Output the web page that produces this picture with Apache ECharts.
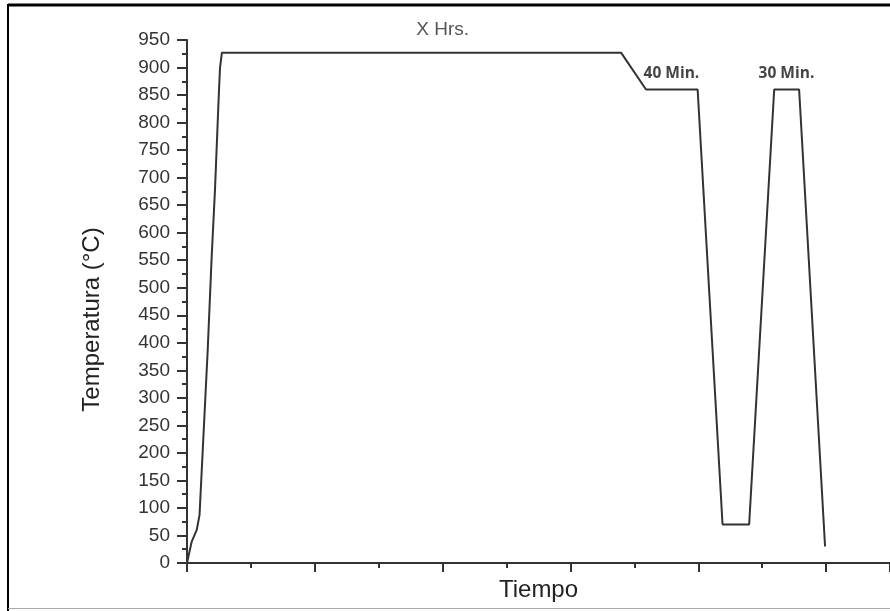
<!DOCTYPE html>
<html>
<head>
<meta charset="utf-8">
<script src="https://cdn.jsdelivr.net/npm/echarts@6/dist/echarts.min.js"></script>
<style>
  html, body { margin: 0; padding: 0; background: #fff; }
  #chart { width: 890px; height: 611px; }
</style>
</head>
<body>
<div id="chart"></div>
<script>
// Heat-treatment cycle: time (arbitrary units) vs temperature (°C)
var tiempo = [0, 0.037, 0.076, 0.098, 0.127, 0.162, 0.193, 0.219, 0.245, 0.258, 0.273,
              2.0, 3.396, 3.591, 3.79, 3.995, 4.19, 4.398, 4.594, 4.69, 4.789, 4.992];
var temperatura = [0, 39, 60, 87, 223, 387, 556, 678, 829, 899, 927,
                   927, 927, 860, 860, 860, 70, 70, 860, 860, 860, 30];
// Annotations placed above the holding stages (index into the arrays above)
var etiquetas = { 11: 'X Hrs.', 14: '40 Min.', 19: '30 Min.' };

var yTicks = { min: 0, max: 950, step: 50 };

var data = tiempo.map(function (t, i) {
  var item = { value: [t, temperatura[i]] };
  if (etiquetas[i]) {
    var main = i === 11;
    item.label = {
      show: true,
      position: 'top',
      formatter: etiquetas[i],
      distance: main ? 13 : 8,
      fontFamily: main ? 'Liberation Sans' : 'Open Sans',
      fontSize: main ? 19 : 15.5,
      fontWeight: main ? 'normal' : 'bold',
      color: main ? '#555' : '#444'
    };
  }
  return item;
});

var chart = echarts.init(document.getElementById('chart'));
chart.setOption({
  animation: false,
  grid: { left: 187, top: 40, width: 704, bottom: 48, containLabel: false },
  xAxis: {
    type: 'value',
    min: 0, max: 5.5, interval: 1,
    name: 'Tiempo',
    nameLocation: 'middle',
    nameGap: 15,
    nameTextStyle: { fontFamily: 'Liberation Sans', fontSize: 24, color: '#222', verticalAlign: 'top' },
    axisLine: { show: true, lineStyle: { color: '#333', width: 2 } },
    axisTick: { show: true, length: 9, lineStyle: { color: '#333', width: 2 } },
    minorTick: { show: true, splitNumber: 2, length: 5, lineStyle: { color: '#333', width: 2 } },
    axisLabel: { show: false },
    splitLine: { show: false }
  },
  yAxis: {
    type: 'value',
    min: yTicks.min, max: yTicks.max, interval: yTicks.step,
    name: 'Temperatura (°C)',
    nameLocation: 'middle',
    nameGap: 83,
    nameTextStyle: { fontFamily: 'Liberation Sans', fontSize: 24, color: '#222', padding: [0, 36, 0, 0] },
    axisLine: { show: true, lineStyle: { color: '#333', width: 2 } },
    axisTick: { show: true, length: 10, lineStyle: { color: '#333', width: 2 } },
    minorTick: { show: true, splitNumber: 2, length: 5, lineStyle: { color: '#333', width: 2 } },
    axisLabel: { margin: 17, fontFamily: 'Liberation Sans', fontSize: 19, color: '#333' },
    splitLine: { show: false }
  },
  series: [{
    type: 'line',
    data: data,
    showSymbol: true,
    showAllSymbol: true,
    symbol: 'circle',
    symbolSize: 0,
    lineStyle: { color: '#333', width: 2 },
    z: 5
  }],
  graphic: [
    { type: 'line', shape: { x1: 8, y1: 5, x2: 890, y2: 5 }, style: { stroke: '#000', lineWidth: 3 } },
    { type: 'line', shape: { x1: 8, y1: 4, x2: 8, y2: 611 }, style: { stroke: '#000', lineWidth: 2 } },
    { type: 'line', shape: { x1: 8, y1: 608.5, x2: 890, y2: 608.5 }, style: { stroke: '#aaa', lineWidth: 1 } }
  ]
});
</script>
</body>
</html>
